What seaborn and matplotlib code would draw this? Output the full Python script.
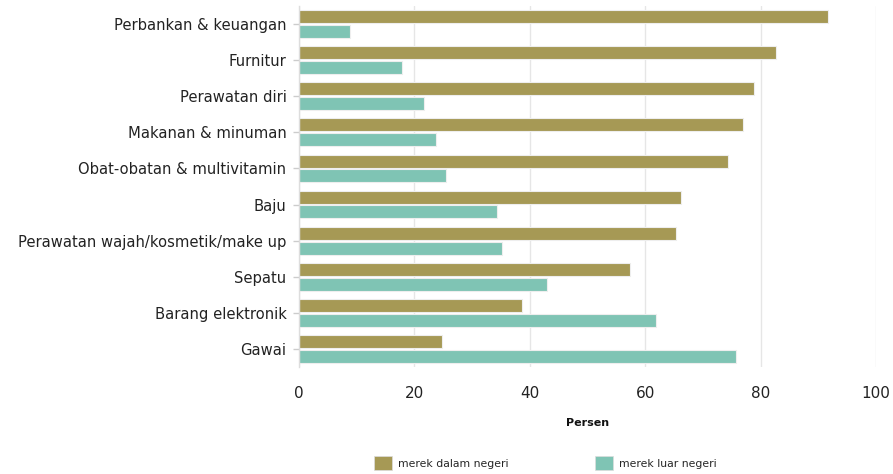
import matplotlib
matplotlib.use("Agg")
import matplotlib.pyplot as plt
import seaborn as sns
import pandas as pd
from matplotlib.patches import Patch

categories = ["Perbankan & keuangan", "Furnitur", "Perawatan diri", "Makanan & minuman",
              "Obat-obatan & multivitamin", "Baju", "Perawatan wajah/kosmetik/make up",
              "Sepatu", "Barang elektronik", "Gawai"]
dalam_negeri = [91.6, 82.6, 78.8, 76.9, 74.3, 66.2, 65.3, 57.4, 38.6, 24.7]
luar_negeri = [8.9, 17.9, 21.7, 23.8, 25.5, 34.4, 35.2, 43.0, 61.9, 75.8]
series = ["merek dalam negeri", "merek luar negeri"]
colors = ["#A69955", "#7FC4B4"]
xticks = [0, 20, 40, 60, 80, 100]

df = pd.DataFrame({
    "kategori": categories * 2,
    "nilai": dalam_negeri + luar_negeri,
    "merek": [series[0]] * len(categories) + [series[1]] * len(categories),
})

sns.set_theme(style="white")
plt.rcParams['font.family'] = ['DejaVu Sans']

fig = plt.figure(figsize=(8.93, 4.74), dpi=100)
ax = fig.add_axes([299/893, 1 - 367/474, (876 - 299)/893, (367 - 6)/474])

sns.barplot(data=df, y="kategori", x="nilai", hue="merek", order=categories,
            hue_order=series, palette=colors, saturation=1, orient="h", width=0.82, gap=0.12,
            edgecolor="#EEEEEE", linewidth=0.8, ax=ax, legend=False)

ax.set_xlim(0, 100)
ax.set_xticks(xticks)
ax.set_xticklabels([str(t) for t in xticks], fontsize=11, color="#222222")
ax.tick_params(axis="x", length=0, pad=14)
ax.tick_params(axis="y", length=4, color="#CCCCCC", width=1, labelsize=10.6, pad=5, left=True)
for lab in ax.get_yticklabels():
    lab.set_color("#222222")
ax.set_ylabel("")
ax.set_xlabel("Persen", fontsize=8, fontweight="bold", labelpad=12, color="#111111")
ax.grid(axis="x", color="#E6E6E6", linewidth=1)
ax.set_axisbelow(True)
for s in ["top", "right", "bottom"]:
    ax.spines[s].set_visible(False)
ax.spines["left"].set_color("#DDDDDD")
ax.spines["left"].set_linewidth(1)

handles = [Patch(facecolor=c, edgecolor="#DDDDDD", linewidth=0.5) for c in colors]
fig.legend(handles, series, loc="center", bbox_to_anchor=(0.611, 0.023), ncol=2,
           frameon=False, fontsize=7.8, handlelength=1.6, handleheight=1.6,
           columnspacing=8, handletextpad=0.6)

fig.savefig("out.png", dpi=100)
